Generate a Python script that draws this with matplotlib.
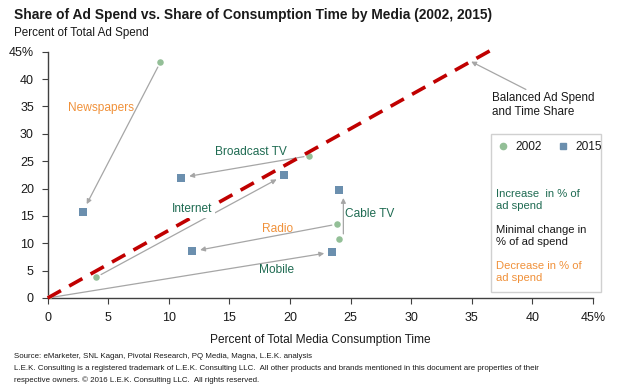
import matplotlib
matplotlib.use("Agg")
import matplotlib.pyplot as plt
from matplotlib.patches import Rectangle
from matplotlib.lines import Line2D

plt.rcParams["font.family"] = ["Liberation Sans", "DejaVu Sans"]

# data: (time share %, ad spend share %)
media = ["Newspapers", "Broadcast TV", "Internet", "Radio", "Cable TV", "Mobile"]
time_2002 = [9.3, 21.6, 4.0, 23.9, 24.0, 0.0]
spend_2002 = [43.1, 26.0, 3.8, 13.5, 10.7, 0.0]
time_2015 = [2.9, 11.0, 19.5, 11.9, 24.0, 23.5]
spend_2015 = [15.8, 22.0, 22.4, 8.5, 19.8, 8.4]
label_group = ["down", "up", "up", "down", "up", "up"]

balanced_x = [0, 37.0]
balanced_y = [0, 45.8]

x_ticks = [0, 5, 10, 15, 20, 25, 30, 35, 40, 45]
x_ticklabels = ["0", "5", "10", "15", "20", "25", "30", "35", "40", "45%"]
y_ticks = [0, 5, 10, 15, 20, 25, 30, 35, 40, 45]
y_ticklabels = ["0", "5", "10", "15", "20", "25", "30", "35", "40", "45%"]

GREEN_PT = "#93bf97"
BLUE_PT = "#6b8fae"
GREEN_TXT = "#1f6b52"
ORANGE_TXT = "#f0913a"
RED = "#c00000"
GREY = "#a6a6a6"
DARK = "#1a1a1a"
txt_color = {"up": GREEN_TXT, "down": ORANGE_TXT}

fig = plt.figure(figsize=(6.18, 3.92), dpi=100)
ax = fig.add_axes([0.0772, 0.2398, 0.8823, 0.6282])

ax.set_xlim(0, 45)
ax.set_ylim(0, 45)
for s in ["top", "right"]:
    ax.spines[s].set_visible(False)
for s in ["left", "bottom"]:
    ax.spines[s].set_color("#404040")
    ax.spines[s].set_linewidth(1.0)
ax.set_xticks(x_ticks)
ax.set_xticklabels(x_ticklabels, fontsize=9)
ax.set_yticks(y_ticks)
ax.set_yticklabels(y_ticklabels, fontsize=9)
ax.tick_params(direction="out", length=4, color="#404040", pad=6, labelcolor=DARK)
ax.set_xlabel("Percent of Total Media Consumption Time", fontsize=8.6, labelpad=7,
              color=DARK)

# balanced line
ax.plot(balanced_x, balanced_y, color=RED, lw=2.6, dashes=(4.2, 2.6),
        zorder=4, clip_on=False, solid_capstyle="butt")

# arrows 2002 -> 2015 (cable TV arrow drawn a little to the right of its points)
for i, m in enumerate(media):
    dx = 0.4 if m == "Cable TV" else 0.0
    ax.annotate("", xy=(time_2015[i] + dx, spend_2015[i]),
                xytext=(time_2002[i] + dx, spend_2002[i]),
                arrowprops=dict(arrowstyle="-|>", color=GREY, lw=0.9,
                                mutation_scale=7, shrinkA=4, shrinkB=6),
                zorder=2)

ax.scatter(time_2002, spend_2002, s=22, marker="o", color=GREEN_PT, zorder=3, lw=0)
ax.scatter(time_2015, spend_2015, s=30, marker="s", color=BLUE_PT, zorder=3, lw=0)

# media labels
label_pos = {
    "Newspapers": (4.4, 34.8),
    "Broadcast TV": (16.8, 26.6),
    "Internet": (11.9, 16.2),
    "Radio": (19.0, 12.6),
    "Cable TV": (26.6, 15.4),
    "Mobile": (18.9, 5.1),
}
for i, m in enumerate(media):
    x, y = label_pos[m]
    kw = {}
    if m == "Internet":
        kw["bbox"] = dict(facecolor="white", edgecolor="none", pad=2)
    ax.text(x, y, m, ha="center", va="center", fontsize=8.6,
            color=txt_color[label_group[i]], zorder=5, **kw)

# balanced annotation
ax.annotate("Balanced Ad Spend\nand Time Share", xy=(34.95, 43.2), xytext=(36.7, 37.6),
            fontsize=8.4, color=DARK, ha="left", va="top", linespacing=1.2,
            arrowprops=dict(arrowstyle="-|>", color=GREY, lw=0.9, mutation_scale=7,
                            shrinkA=0, shrinkB=0, relpos=(0.38, 1.0)))

# legend box
ax.add_patch(Rectangle((36.6, 1.1), 9.1, 28.9, facecolor="white",
                       edgecolor="#d0d0d0", lw=1.0, clip_on=False, zorder=5))
handles = [Line2D([], [], ls="none", marker="o", color=GREEN_PT, markersize=4.5, label="2002"),
           Line2D([], [], ls="none", marker="s", color=BLUE_PT, markersize=4.5, label="2015")]
leg = ax.legend(handles=handles, ncol=2, frameon=False, fontsize=8.6, loc="center left",
                bbox_to_anchor=(36.2, 27.6), bbox_transform=ax.transData,
                handletextpad=0.5, columnspacing=1.3, handlelength=1.0)
for t in leg.get_texts():
    t.set_color(DARK)
ax.text(37.0, 20.0, "Increase  in % of\nad spend", fontsize=8.1, color=GREEN_TXT,
        va="top", ha="left", zorder=6, linespacing=1.25)
ax.text(37.0, 13.3, "Minimal change in\n% of ad spend", fontsize=8.1, color=DARK,
        va="top", ha="left", zorder=6, linespacing=1.25)
ax.text(37.0, 6.7, "Decrease in % of\nad spend", fontsize=8.1, color=ORANGE_TXT,
        va="top", ha="left", zorder=6, linespacing=1.25)

# titles
fig.text(0.022, 0.963, "Share of Ad Spend vs. Share of Consumption Time by Media (2002, 2015)",
         fontsize=9.9, fontweight="bold", ha="left", va="center", color=DARK)
fig.text(0.022, 0.917, "Percent of Total Ad Spend", fontsize=8.4, ha="left",
         va="center", color=DARK)

# source notes
fig.text(0.022, 0.091, "Source: eMarketer, SNL Kagan, Pivotal Research, PQ Media, Magna, L.E.K. analysis",
         fontsize=5.7, ha="left", va="center", color=DARK)
fig.text(0.022, 0.061, "L.E.K. Consulting is a registered trademark of L.E.K. Consulting LLC.  All other products "
         "and brands mentioned in this document are properties of their",
         fontsize=5.7, ha="left", va="center", color=DARK)
fig.text(0.022, 0.031, "respective owners. \u00a9 2016 L.E.K. Consulting LLC.  All rights reserved.",
         fontsize=5.7, ha="left", va="center", color=DARK)

fig.savefig("out.png", dpi=100)
